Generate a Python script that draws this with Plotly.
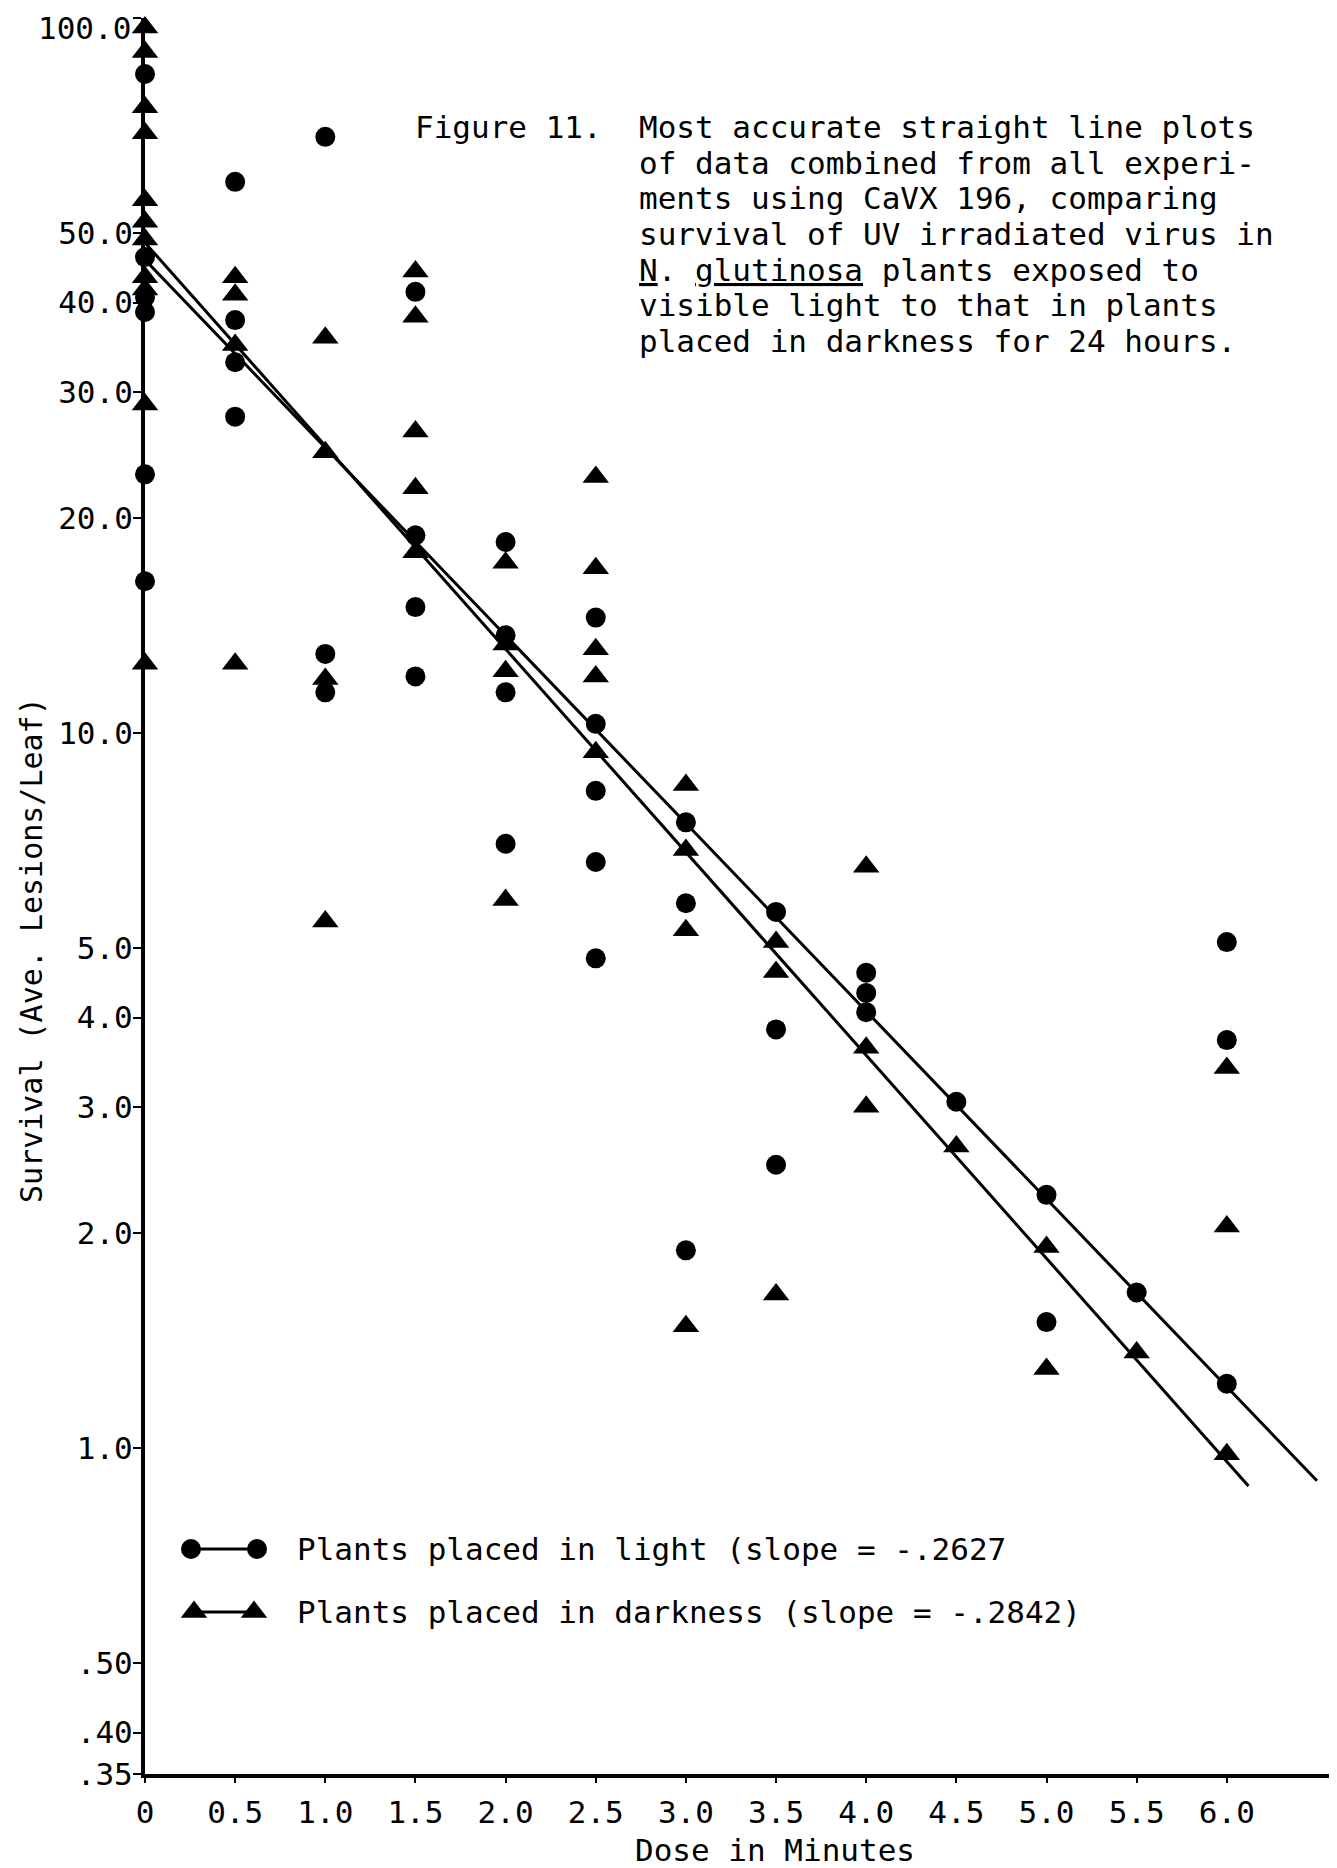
import plotly.graph_objects as go
import math

# ---------------- data ----------------
# Plants placed in light (circles)
light_x = [0, 0, 0, 0, 0, 0,
           0.5, 0.5, 0.5, 0.5,
           1.0, 1.0, 1.0,
           1.5, 1.5, 1.5, 1.5,
           2.0, 2.0, 2.0, 2.0,
           2.5, 2.5, 2.5, 2.5, 2.5,
           3.0, 3.0, 3.0,
           3.5, 3.5, 3.5,
           4.0, 4.0, 4.0,
           4.5,
           5.0, 5.0,
           5.5,
           6.0, 6.0, 6.0]
light_y = [83.5, 46.3, 40.7, 38.8, 23.0, 16.3,
           59.0, 37.8, 33.0, 27.7,
           68.2, 12.9, 11.4,
           41.4, 18.9, 15.0, 12.0,
           18.5, 13.7, 11.4, 7.0,
           14.5, 10.3, 8.3, 6.6, 4.84,
           7.5, 5.78, 1.89,
           5.62, 3.85, 2.49,
           4.62, 4.33, 4.07,
           3.05,
           2.26, 1.50,
           1.65,
           5.1, 3.72, 1.23]

# Plants placed in darkness (triangles)
dark_x = [0, 0, 0, 0, 0, 0, 0, 0, 0, 0, 0,
          0.5, 0.5, 0.5, 0.5,
          1.0, 1.0, 1.0, 1.0,
          1.5, 1.5, 1.5, 1.5, 1.5,
          2.0, 2.0, 2.0, 2.0,
          2.5, 2.5, 2.5, 2.5, 2.5,
          3.0, 3.0, 3.0, 3.0,
          3.5, 3.5, 3.5,
          4.0, 4.0, 4.0,
          4.5,
          5.0, 5.0,
          5.5,
          6.0, 6.0, 6.0]
dark_y = [97.0, 89.6, 75.0, 69.0, 55.6, 51.9, 49.0, 43.4, 41.7, 28.8, 12.5,
          43.4, 41.0, 34.9, 12.5,
          35.7, 24.7, 11.9, 5.45,
          44.2, 38.2, 26.4, 22.0, 17.9,
          17.3, 13.3, 12.2, 5.84,
          22.8, 17.0, 13.1, 12.0, 9.4,
          8.46, 6.86, 5.30, 1.48,
          5.1, 4.63, 1.64,
          6.5, 3.63, 3.0,
          2.64,
          1.91, 1.29,
          1.36,
          3.40, 2.04, 0.98]

# Fitted straight lines (end points)
light_fit_x = [0.0, 6.5]
light_fit_y = [45.9, 0.90]
dark_fit_x = [0.0, 6.12]
dark_fit_y = [48.5, 0.885]

x_tick_vals = [0, 0.5, 1.0, 1.5, 2.0, 2.5, 3.0, 3.5, 4.0, 4.5, 5.0, 5.5, 6.0]
x_tick_text = ["0", "0.5", "1.0", "1.5", "2.0", "2.5", "3.0", "3.5", "4.0",
               "4.5", "5.0", "5.5", "6.0"]
y_tick_vals = [0.35, 0.4, 0.5, 1, 2, 3, 4, 5, 10, 20, 30, 40, 50, 100]
y_tick_text = [".35", ".40", ".50", "1.0", "2.0", "3.0", "4.0", "5.0",
               "10.0", "20.0", "30.0", "40.0", "50.0", "100.0"]

legend_labels = ["Plants placed in light (slope = -.2627",
                 "Plants placed in darkness (slope = -.2842)"]

caption_head = "Figure 11."
caption_lines = [
    "Most accurate straight line plots",
    "of data combined from all experi-",
    "ments using CaVX 196, comparing",
    "survival of UV irradiated virus in",
    "<u>N</u>. <u>glutinosa</u> plants exposed to",
    "visible light to that in plants",
    "placed in darkness for 24 hours.",
]

# ---------------- layout geometry (page pixels) ----------------
OFF = 8                      # default body margin of the html page
PAGE_W, PAGE_H = 1337, 1868
W, H = PAGE_W - OFF, PAGE_H - OFF
L, R, T, B = 145, 1335, 18, 1774   # plot area in page pixels
FONT = "DejaVu Sans Mono"
FS = 31


def px(x):
    return (x - L) / (R - L)


def py(y):
    return (B - y) / (B - T)


fig = go.Figure()

# fitted lines
fig.add_trace(go.Scatter(x=light_fit_x, y=light_fit_y, mode="lines",
                         line=dict(color="black", width=3),
                         showlegend=False, cliponaxis=False))
fig.add_trace(go.Scatter(x=dark_fit_x, y=dark_fit_y, mode="lines",
                         line=dict(color="black", width=3),
                         showlegend=False, cliponaxis=False))

# data points
fig.add_trace(go.Scatter(x=light_x, y=light_y, mode="markers",
                         marker=dict(symbol="circle", size=20, color="black"),
                         name=legend_labels[0], showlegend=False,
                         cliponaxis=False))
fig.add_trace(go.Scatter(x=dark_x, y=dark_y, mode="markers",
                         marker=dict(symbol="triangle-up", size=23, color="black"),
                         name=legend_labels[1], showlegend=False,
                         cliponaxis=False))

# legend glyphs on an overlay axis in page pixels
fig.add_trace(go.Scatter(x=[191, 257], y=[1549, 1549], xaxis="x2", yaxis="y2",
                         mode="lines+markers",
                         line=dict(color="black", width=3),
                         marker=dict(symbol="circle", size=20, color="black"),
                         showlegend=False, cliponaxis=False))
fig.add_trace(go.Scatter(x=[194, 254], y=[1612, 1612], xaxis="x2", yaxis="y2",
                         mode="lines+markers",
                         line=dict(color="black", width=3),
                         marker=dict(symbol="triangle-up", size=23, color="black"),
                         showlegend=False, cliponaxis=False))

annotations = []
for txt, yy in zip(legend_labels, [1549, 1612]):
    annotations.append(dict(text=txt, x=px(295), y=py(yy), xref="paper", yref="paper",
                            xanchor="left", yanchor="middle", showarrow=False,
                            font=dict(family=FONT, size=FS, color="black")))

annotations.append(dict(text=caption_head, x=px(413), y=py(127), xref="paper",
                        yref="paper", xanchor="left", yanchor="middle",
                        showarrow=False, font=dict(family=FONT, size=FS, color="black")))
for i, line in enumerate(caption_lines):
    annotations.append(dict(text=line, x=px(637), y=py(127 + i * 35.7), xref="paper",
                            yref="paper", xanchor="left", yanchor="middle",
                            showarrow=False,
                            font=dict(family=FONT, size=FS, color="black")))

annotations.append(dict(text="Survival (Ave. Lesions/Leaf)", x=px(31), y=py(950),
                        xref="paper", yref="paper", textangle=-90,
                        xanchor="center", yanchor="middle", showarrow=False,
                        font=dict(family=FONT, size=30, color="black")))
annotations.append(dict(text="Dose in Minutes", x=px(775), y=py(1850),
                        xref="paper", yref="paper", xanchor="center",
                        yanchor="middle", showarrow=False,
                        font=dict(family=FONT, size=FS, color="black")))

# the top tick label sits a little below its tick in the original, as typed
annotations.append(dict(text=y_tick_text[-1], x=px(133), y=py(28),
                        xref="paper", yref="paper", xanchor="right",
                        yanchor="middle", showarrow=False,
                        font=dict(family=FONT, size=FS, color="black")))
axis_tick_text = y_tick_text[:-1] + [""]

fig.update_layout(
    width=W, height=H,
    margin=dict(l=L - OFF, r=PAGE_W - R, t=T - OFF, b=PAGE_H - B, pad=0,
                autoexpand=False),
    paper_bgcolor="white", plot_bgcolor="white",
    showlegend=False,
    font=dict(family=FONT, size=FS, color="black"),
    xaxis=dict(range=[0, (R - L) / 180.3], showline=True, linewidth=4,
               linecolor="black", ticks="outside", ticklen=5, tickwidth=2,
               tickcolor="black", tickvals=x_tick_vals, ticktext=x_tick_text,
               showgrid=False, zeroline=False, ticklabelstandoff=3,
               ticklabeloverflow="allow", automargin=False,
               tickfont=dict(family=FONT, size=FS, color="black")),
    yaxis=dict(type="log", range=[math.log10(0.35), 2.0], showline=True,
               linewidth=4, linecolor="black", ticks="outside", ticklen=8,
               tickwidth=2, tickcolor="black", tickvals=y_tick_vals,
               ticktext=axis_tick_text, showgrid=False, zeroline=False,
               ticklabelstandoff=-6, ticklabeloverflow="allow", automargin=False,
               tickfont=dict(family=FONT, size=FS, color="black")),
    xaxis2=dict(overlaying="x", range=[L, R], visible=False),
    yaxis2=dict(overlaying="y", range=[B, T], visible=False),
    annotations=annotations,
)

fig.write_html("out.html")
